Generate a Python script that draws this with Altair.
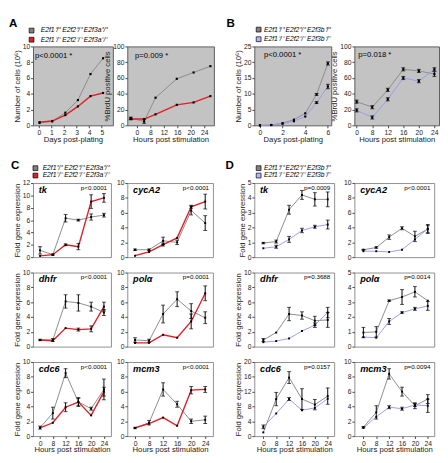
import altair as alt
import pandas as pd

FONT = "Liberation Sans"
GRAY = "#8a8a8a"
RED = "#e31e24"
BLUE = "#9a9af0"
TOP_BG = "#c3c3c3"
TOP_FRAME = "#5a5a5a"
LOW_FRAME = "#8c8c8c"

HOURS = ["0", "8", "12", "16", "20", "24"]
IDX = [0, 1, 2, 3, 4, 5]

# ---------------- Panel A ----------------
A_DAYS = [0.05, 1.05, 2.1, 3.1, 4.1, 5.1]
A1_WT = [0.3, 0.5, 1.6, 3.2, 6.5, 8.5]
A1_WT_ERR = [0, 0, 0, 0, 0, 0]
A1_KO = [0.4, 0.55, 1.3, 2.4, 3.7, 4.1]
A1_KO_ERR = [0, 0, 0, 0, 0, 0]
A2_POS = [-0.46, 0.53, 1.38, 2.96, 4.21, 5.46]
A2_WT = [9, 5, 35, 59, 67, 75]
A2_WT_ERR = [1.5, 2.5, 0, 0, 0, 0]
A2_KO = [8, 8, 14, 26, 29, 37]
A2_KO_ERR = [1, 0, 0, 0, 0, 0]

# ---------------- Panel B ----------------
B_DAYS = [0, 1, 2, 3, 4, 5, 6]
B1_WT = [0.0, 0.1, 0.7, 1.8, 3.8, 9.8, 19.6]
B1_WT_ERR = [0, 0, 0, 0, 0, 0.3, 0.5]
B1_KO = [0.0, 0.1, 0.5, 1.3, 2.8, 7.2, 12.3]
B1_KO_ERR = [0, 0, 0, 0, 0, 0.3, 0.7]
B2_WT = [30, 23, 45, 71, 69, 65]
B2_WT_ERR = [2, 2, 2, 2, 2, 3]
B2_KO = [19, 10, 33, 60, 56, 71]
B2_KO_ERR = [2, 2, 2, 2, 2, 2]

# ---------------- Panel C (E2f3a) ----------------
C_TK_WT = [1.1, 0.4, 6.3, 6.0, 6.5, 6.8]
C_TK_WT_ERR = [0.6, 0.1, 0.6, 0.15, 0.5, 0.3]
C_TK_KO = [0.2, 0.4, 2.0, 1.7, 9.0, 9.6]
C_TK_KO_ERR = [0, 0, 0.15, 0.5, 1.1, 0.7]
C_CYC_WT = [1.0, 1.0, 2.2, 2.0, 6.3, 4.6]
C_CYC_WT_ERR = [0.1, 0.1, 0.5, 0.3, 0.6, 1.0]
C_CYC_KO = [0.2, 0.7, 1.7, 2.6, 6.8, 7.5]
C_CYC_KO_ERR = [0, 0, 0.2, 0, 0.2, 1.0]
C_DHFR_WT = [0.9, 0.9, 6.1, 5.9, 5.4, 4.6]
C_DHFR_WT_ERR = [0.1, 0.2, 0.9, 1.1, 0.6, 0.4]
C_DHFR_KO = [0.9, 0.8, 2.5, 2.3, 2.4, 5.4]
C_DHFR_KO_ERR = [0, 0, 0, 0.2, 0.4, 0.6]
C_POLA_WT = [0.9, 0.8, 4.4, 6.4, 4.8, 3.9]
C_POLA_WT_ERR = [0.3, 0.2, 1.2, 1.0, 1.0, 0.8]
C_POLA_KO = [0.5, 0.5, 1.6, 1.2, 3.4, 7.2]
C_POLA_KO_ERR = [0, 0, 0, 0, 1.0, 1.0]
C_CDC6_WT = [1.15, 3.1, 8.5, 4.6, 3.7, 6.3]
C_CDC6_WT_ERR = [0.2, 0.8, 0.6, 0.6, 0.2, 1.4]
C_CDC6_KO = [1.1, 1.8, 3.9, 4.6, 2.8, 6.0]
C_CDC6_KO_ERR = [0, 0, 0.6, 0.5, 0, 0.6]
C_MCM3_WT = [1.1, 1.8, 6.3, 4.3, 2.0, 2.2]
C_MCM3_WT_ERR = [0.1, 0.3, 0.9, 0.4, 0.3, 0.5]
C_MCM3_KO = [1.1, 1.7, 2.5, 1.4, 6.2, 6.3]
C_MCM3_KO_ERR = [0, 0, 0, 0, 0.5, 0.4]

# ---------------- Panel D (E2f3b) ----------------
D_TK_WT = [0.95, 1.05, 3.2, 4.2, 3.9, 3.9]
D_TK_WT_ERR = [0.05, 0.1, 0.3, 0.3, 0.45, 0.5]
D_TK_KO = [0.6, 0.7, 1.2, 1.8, 2.05, 2.2]
D_TK_KO_ERR = [0, 0.1, 0.2, 0.15, 0.1, 0.3]
D_CYC_WT = [1.0, 1.3, 2.7, 3.9, 2.8, 3.8]
D_CYC_WT_ERR = [0.05, 0.1, 0.3, 0.2, 0.7, 0.6]
D_CYC_KO = [0.8, 0.8, 0.7, 1.0, 2.4, 3.8]
D_CYC_KO_ERR = [0, 0, 0, 0, 0, 0.5]
D_DHFR_WT = [0.9, 1.9, 4.4, 4.2, 3.5, 3.6]
D_DHFR_WT_ERR = [0.2, 0, 0.9, 0.5, 0.6, 1.0]
D_DHFR_KO = [0.6, 0.75, 1.1, 2.1, 2.9, 4.6]
D_DHFR_KO_ERR = [0, 0, 0, 0, 0.3, 0.7]
D_POLA_WT = [0.95, 1.0, 3.1, 3.35, 3.7, 3.1]
D_POLA_WT_ERR = [0.35, 0.35, 0.05, 0.5, 0.35, 0]
D_POLA_KO = [0.65, 0.6, 1.7, 2.3, 2.55, 2.75]
D_POLA_KO_ERR = [0, 0, 0.2, 0.05, 0.1, 0.3]
D_CDC6_WT = [1.0, 10.0, 15.8, 10.0, 8.5, 10.8]
D_CDC6_WT_ERR = [0, 1.8, 1.6, 2.8, 1.4, 2.2]
D_CDC6_KO = [2.5, 6.1, 10.0, 7.0, 7.6, 10.1]
D_CDC6_KO_ERR = [0.5, 0, 0.4, 0, 0, 0]
D_MCM3_WT = [1.2, 3.2, 8.4, 6.0, 4.1, 5.0]
D_MCM3_WT_ERR = [0.1, 0.9, 0.7, 0.6, 0.4, 0.6]
D_MCM3_KO = [1.1, 2.6, 3.9, 3.7, 4.2, 4.1]
D_MCM3_KO_ERR = [0, 0, 0.2, 0.2, 0.2, 0.9]

LEG_A = ["E2f1\u207a/\u207a E2f2\u207a/\u207a E2f3a\u207a/\u207a", "E2f1\u207b/\u207b E2f2\u207b/\u207b E2f3a\u207b/\u207b"]
LEG_B = ["E2f1\u207a/\u207a E2f2\u207a/\u207a E2f3b\u207a/\u207a", "E2f1\u207b/\u207b E2f2\u207b/\u207b E2f3b\u207b/\u207b"]

LABEL_EXPR = "[" + ",".join("'%s'" % h for h in HOURS) + "][datum.value]"


def make_df(xs, wt, wt_err, ko, ko_err):
    rows = []
    for g, vals, errs in (("WT", wt, wt_err), ("KO", ko, ko_err)):
        for x, v, e in zip(xs, vals, errs):
            rows.append({"x": x, "v": v, "e": e, "lo": v - e, "hi": v + e, "g": g})
    return pd.DataFrame(rows)


def txt(text, x, y, size, weight="normal", style="normal", align="left", baseline="top"):
    return alt.Chart(alt.Data(values=[{"t": text}])).mark_text(
        align=align, baseline=baseline, fontSize=size, fontWeight=weight,
        fontStyle=style, font=FONT, color="black"
    ).encode(x=alt.value(x), y=alt.value(y), text="t:N")


def sq(x, y, s, fill):
    return alt.Chart(alt.Data(values=[{"t": 1}])).mark_rect(
        fill=fill, stroke="black", strokeWidth=0.7
    ).encode(x=alt.value(x), x2=alt.value(x + s), y=alt.value(y), y2=alt.value(y + s))


def legend(x_sq, x_txt, y1, y2, labels, ko_color):
    return [
        sq(x_sq, y1, 5, "#808080"), sq(x_sq, y2, 5, ko_color),
        txt(labels[0], x_txt, y1 + 2.5, 7, style="italic", baseline="middle"),
        txt(labels[1], x_txt, y2 + 2.5, 7, style="italic", baseline="middle"),
    ]


def panel(df, width, height, xdom, xaxis, ydom, yaxis, ko_color, ko_width, bg, frame, extras, msize=4):
    xs = alt.Scale(domain=xdom, nice=False, zero=False)
    ys = alt.Scale(domain=ydom, nice=False, zero=False)

    def enc(yf):
        return dict(x=alt.X("x:Q", scale=xs, axis=xaxis), y=alt.Y(yf + ":Q", scale=ys, axis=yaxis))

    base = alt.Chart(df)
    wt = base.transform_filter("datum.g == 'WT'").mark_line(color=GRAY, strokeWidth=1).encode(**enc("v"))
    ko = base.transform_filter("datum.g == 'KO'").mark_line(color=ko_color, strokeWidth=ko_width).encode(**enc("v"))
    eb = base.transform_filter("datum.e > 0")
    rule = eb.mark_rule(color="black", strokeWidth=1).encode(**enc("lo"), y2="hi:Q")
    cap1 = eb.mark_tick(orient="horizontal", size=4, thickness=1, color="black").encode(**enc("lo"))
    cap2 = eb.mark_tick(orient="horizontal", size=4, thickness=1, color="black").encode(**enc("hi"))
    pts = base.mark_square(size=msize, color="black", opacity=1).encode(**enc("v"))
    return alt.layer(wt, ko, rule, cap1, cap2, pts, *extras).properties(
        width=width, height=height,
        view=alt.ViewBackground(fill=bg, stroke=frame, strokeWidth=1),
    )


def yax(vals, title, pad=1):
    return alt.Axis(values=vals, title=title, titlePadding=pad, format="d", labelFlush=False, labelOverlap=False)


def hours_axis(title):
    return alt.Axis(values=IDX, labelExpr=LABEL_EXPR, title=title, titlePadding=0,
                    labelFlush=False, labelOverlap=False)


def days_axis(vals):
    return alt.Axis(values=vals, title="Days post-plating", titlePadding=0, format="d",
                    labelFlush=False, labelOverlap=False)


TOP_H = 82
LOW_H = 77

# ---- top row ----
a1 = panel(make_df(A_DAYS, A1_WT, A1_WT_ERR, A1_KO, A1_KO_ERR), 83, TOP_H, [-0.47, 5.88], days_axis([0, 1, 2, 3, 4, 5]),
           [0, 10], yax([0, 2, 4, 6, 8, 10], "Number of cells (10\u2076)"), RED, 1.4, TOP_BG, TOP_FRAME,
           [txt("A", -25, -29, 12, weight="bold"), txt("p<0.0001 *", 2, 10, 8, baseline="middle")]
           + legend(-4, 8, -19, -9.5, LEG_A, RED), msize=5)
a2 = panel(make_df(A2_POS, A2_WT, A2_WT_ERR, A2_KO, A2_KO_ERR), 90, TOP_H, [-0.72, 5.72], hours_axis("Hours post stimulation"),
           [0, 100], yax([0, 20, 40, 60, 80, 100], "%BrdU positive cells"), RED, 1.4, TOP_BG, TOP_FRAME,
           [txt("p=0.009 *", 8, 10, 8, baseline="middle")], msize=5)
b1 = panel(make_df(B_DAYS, B1_WT, B1_WT_ERR, B1_KO, B1_KO_ERR), 80, TOP_H, [-0.5, 6.3], days_axis([0, 2, 4, 6]),
           [0, 25], yax([0, 5, 10, 15, 20, 25], "Number of cells (10\u2076)"), BLUE, 1, TOP_BG, TOP_FRAME,
           [txt("B", -29, -29, 12, weight="bold"), txt("p<0.0001 *", 10, 9, 8, baseline="middle")]
           + legend(2, 10, -20, -10, LEG_B, "#b4b4ff"), msize=5)
b2 = panel(make_df(IDX, B2_WT, B2_WT_ERR, B2_KO, B2_KO_ERR), 88, TOP_H, [-0.15, 5.3], hours_axis("Hours post stimulation"),
           [0, 100], yax([0, 20, 40, 60, 80, 100], "%BrdU positive cells"), BLUE, 1, TOP_BG, TOP_FRAME,
           [txt("p=0.018 *", 4, 9, 8, baseline="middle")], msize=5)


def low(wt, wt_err, ko, ko_err, width, xdom, show_x, ymax, ystep, ytitle, ko_color, ko_width, gene, pval, extra=()):
    xaxis = hours_axis("Hours post stimulation") if show_x else None
    yvals = list(range(0, ymax + 1, ystep))
    ex = [txt(gene, 6, 2, 9.5, weight="bold", style="italic"),
          txt(pval, width - 4, 5, 6.5, align="right", baseline="middle")] + list(extra)
    return panel(make_df(IDX, wt, wt_err, ko, ko_err), width, LOW_H, xdom, xaxis, [0, ymax],
                 yax(yvals, ytitle), ko_color, ko_width, "white", LOW_FRAME, ex)


CX = [-0.55, 5.55]
DX = [-0.7, 5.5]
FG = "Fold gene expression"

c_tk = low(C_TK_WT, C_TK_WT_ERR, C_TK_KO, C_TK_KO_ERR, 81, CX, False, 12, 2, FG, RED, 1.4, "tk", "p<0.0001",
           [txt("C", -23, -24, 12, weight="bold")] + legend(0, 10, -18, -10.3, LEG_A, RED))
c_cyc = low(C_CYC_WT, C_CYC_WT_ERR, C_CYC_KO, C_CYC_KO_ERR, 89, CX, False, 10, 2, "", RED, 1.4, "cycA2", "p<0.0001")
c_dhfr = low(C_DHFR_WT, C_DHFR_WT_ERR, C_DHFR_KO, C_DHFR_KO_ERR, 81, CX, False, 10, 2, FG, RED, 1.4, "dhfr", "p<0.0001")
c_pola = low(C_POLA_WT, C_POLA_WT_ERR, C_POLA_KO, C_POLA_KO_ERR, 89, CX, False, 10, 2, "", RED, 1.4, "pol\u03b1", "p=0.0001")
c_cdc6 = low(C_CDC6_WT, C_CDC6_WT_ERR, C_CDC6_KO, C_CDC6_KO_ERR, 81, CX, True, 10, 2, FG, RED, 1.4, "cdc6", "p<0.0001")
c_mcm3 = low(C_MCM3_WT, C_MCM3_WT_ERR, C_MCM3_KO, C_MCM3_KO_ERR, 89, CX, True, 10, 2, "", RED, 1.4, "mcm3", "p<0.0001")

d_tk = low(D_TK_WT, D_TK_WT_ERR, D_TK_KO, D_TK_KO_ERR, 83, DX, False, 5, 1, FG, BLUE, 1, "tk", "p=0.0009",
           [txt("D", -30, -24, 12, weight="bold")] + legend(2, 10, -18, -10.3, LEG_B, "#b4b4ff"))
d_cyc = low(D_CYC_WT, D_CYC_WT_ERR, D_CYC_KO, D_CYC_KO_ERR, 83, DX, False, 10, 2, "", BLUE, 1, "cycA2", "p<0.0001")
d_dhfr = low(D_DHFR_WT, D_DHFR_WT_ERR, D_DHFR_KO, D_DHFR_KO_ERR, 83, DX, False, 10, 2, FG, BLUE, 1, "dhfr", "p=0.3688")
d_pola = low(D_POLA_WT, D_POLA_WT_ERR, D_POLA_KO, D_POLA_KO_ERR, 83, DX, False, 5, 1, "", BLUE, 1, "pol\u03b1", "p=0.0014")
d_cdc6 = low(D_CDC6_WT, D_CDC6_WT_ERR, D_CDC6_KO, D_CDC6_KO_ERR, 83, DX, True, 20, 4, FG, BLUE, 1, "cdc6", "p=0.0157")
d_mcm3 = low(D_MCM3_WT, D_MCM3_WT_ERR, D_MCM3_KO, D_MCM3_KO_ERR, 83, DX, True, 10, 2, "", BLUE, 1, "mcm3", "p=0.0094")


def spacer(w, h):
    return alt.Chart(alt.Data(values=[{"t": 1}])).mark_point(opacity=0).encode(
        x=alt.value(0), y=alt.value(0)).properties(width=w, height=h)


TOP_W = [3, 83, 14, 90, 38, 80, 19, 88]
LOW_W = [1, 81, 15, 89, 42, 83, 21, 83]

cells = []


def add_row(widths, height, charts):
    it = iter(charts)
    for i, w in enumerate(widths):
        if i in (1, 3, 5, 7):
            cells.append(next(it))
        else:
            cells.append(spacer(w, height))


def add_gap(h):
    for i in range(8):
        cells.append(spacer(1, h))


add_row(TOP_W, TOP_H, [a1, a2, b1, b2])
add_gap(60)
add_row(LOW_W, LOW_H, [c_tk, c_cyc, d_tk, d_cyc])
add_gap(16)
add_row(LOW_W, LOW_H, [c_dhfr, c_pola, d_dhfr, d_pola])
add_gap(16)
add_row(LOW_W, LOW_H, [c_cdc6, c_mcm3, d_cdc6, d_mcm3])

chart = alt.concat(
    *cells, columns=8, spacing=0, bounds="flush",
    align=alt.RowColLayoutAlign(row="each", column="none"),
).properties(padding=0, background="white").configure_view(
    stroke="transparent", strokeWidth=0
).configure_axis(
    labelFont=FONT, titleFont=FONT, labelFontSize=7, titleFontSize=8, titleFontWeight="normal",
    tickSize=2.5, labelPadding=1, domain=False, grid=False,
    labelColor="#1a1a1a", titleColor="#1a1a1a", tickColor="#444444",
)

chart.save("out.html", embed_options={"renderer": "svg", "actions": False})
